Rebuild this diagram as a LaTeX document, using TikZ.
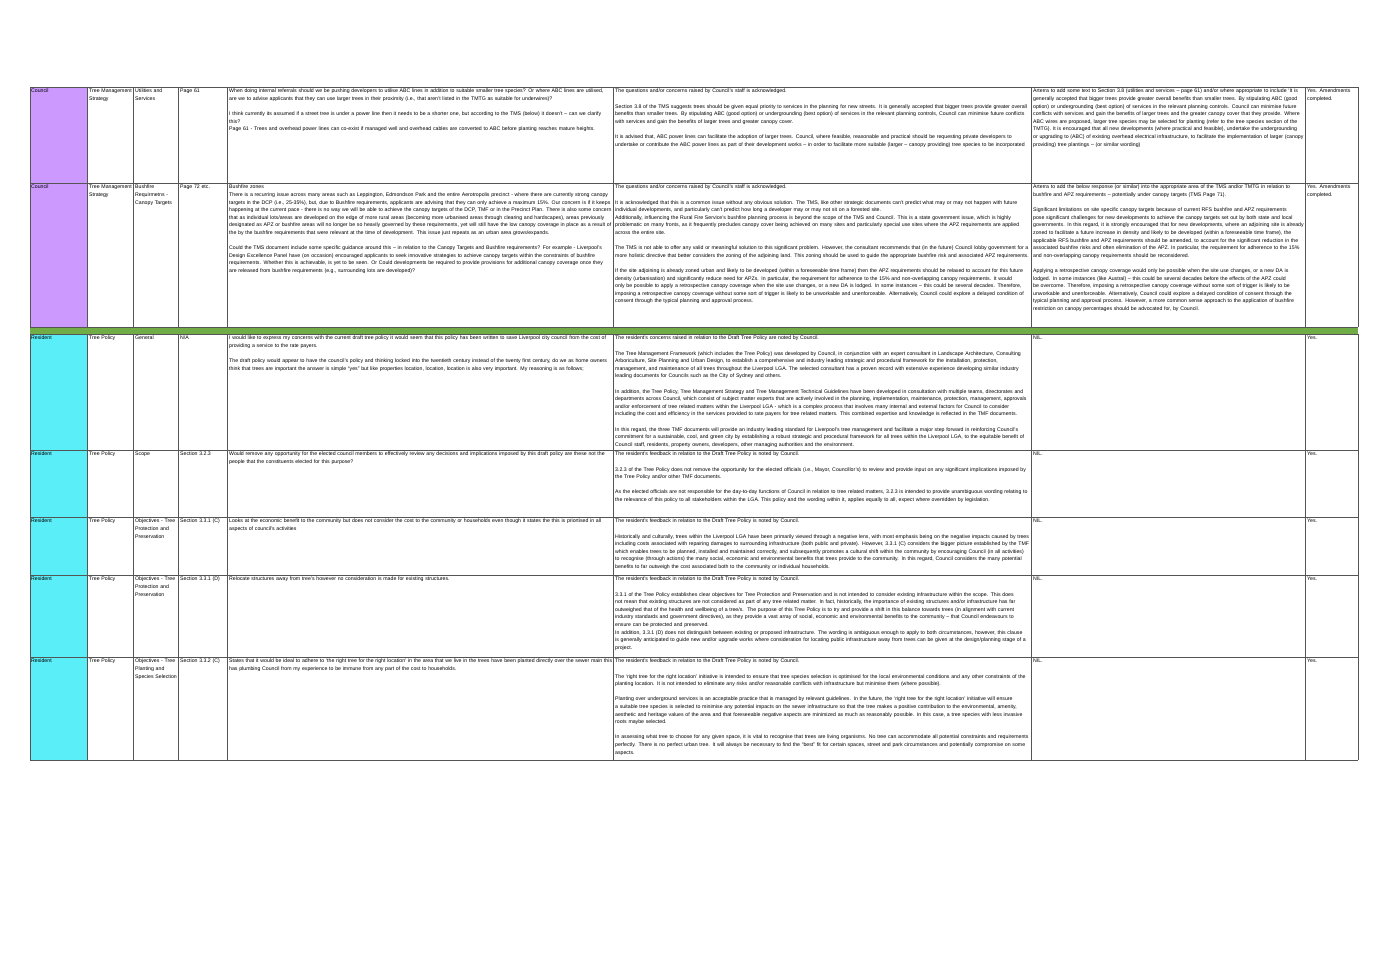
\documentclass[tikz,border=0pt]{standalone}
\usepackage{fontspec}
\setmainfont{Liberation Sans}
\usetikzlibrary{positioning}
\definecolor{councilpurple}{HTML}{CC99FF}
\definecolor{residentcyan}{HTML}{5AEEF8}
\definecolor{bandgreen}{HTML}{70AD47}
\definecolor{gridgrey}{HTML}{555555}
\newcommand\paragap{\par\vspace{7.6pt}}
\hyphenpenalty=10000
\exhyphenpenalty=10000

\begin{document}
\begin{tikzpicture}[x=1pt,y=-1pt,
  cell/.style={anchor=north west,inner sep=0pt,align=left,
    font=\fontsize{5.2}{7.6}\selectfont},
  rule/.style={draw=gridgrey,line width=0.6pt}]
\useasboundingbox (0,0) rectangle (1383,977);

% colour cells and band
\fill[councilpurple] (30,87) rectangle (87,327);
\fill[residentcyan] (30,334) rectangle (87,760);
\fill[bandgreen] (30,327) rectangle (1358,334);

% grid
\foreach \y in {87,183,327,334,450,517,575,657,760}
  \draw[rule] (30,\y) -- (1358,\y);
\foreach \x in {30,87,133,178,227,613,1031,1305,1358} {
  \draw[rule] (\x,87) -- (\x,327);
  \draw[rule] (\x,334) -- (\x,760);
}

% row 1
\node[cell,text width=55] (a1) at (31,89) {Council};
\node[cell,text width=45] (b1) at (89,89) {Tree Management Strategy};
\node[cell,text width=43] (c1) at (135,89) {Utilities and Services};
\node[cell,text width=47] (d1) at (180,89) {Page 61};
\node[cell,text width=383] (e1) at (229,89) {When doing internal referrals should we be pushing developers to utilise ABC lines in addition to suitable smaller tree species? Or where ABC lines are utilised, are we to advise applicants that they can use larger trees in their proximity (i.e., that aren't listed in the TMTG as suitable for underwires)?\paragap
I think currently its assumed if a street tree is under a power line then it needs to be a shorter one, but according to the TMS (below) it doesn't -- can we clarify this?\par
Page 61 - Trees and overhead power lines can co-exist if managed well and overhead cables are converted to ABC before planting reaches mature heights.};
\node[cell,text width=415] (f1) at (615,89) {The questions and/or concerns raised by Council's staff is acknowledged.\paragap
Section 3.8 of the TMS suggests trees should be given equal priority to services in the planning for new streets. It is generally accepted that bigger trees provide greater overall benefits than smaller trees. By stipulating ABC (good option) or undergrounding (best option) of services in the relevant planning controls, Council can minimise future conflicts with services and gain the benefits of larger trees and greater canopy cover.\paragap
It is advised that, ABC power lines can facilitate the adoption of larger trees. Council, where feasible, reasonable and practical should be requesting private developers to undertake or contribute the ABC power lines as part of their development works -- in order to facilitate more suitable (larger -- canopy providing) tree species to be incorporated};
\node[cell,text width=271] (g1) at (1033,89) {Arterra to add some text to Section 3.8 (utilities and services -- page 61) and/or where appropriate to include `It is generally accepted that bigger trees provide greater overall benefits than smaller trees. By stipulating ABC (good option) or undergrounding (best option) of services in the relevant planning controls. Council can minimise future conflicts with services and gain the benefits of larger trees and the greater canopy cover that they provide. Where ABC wires are proposed, larger tree species may be selected for planting (refer to the tree species section of the TMTG). It is encouraged that all new developments (where practical and feasible), undertake the undergrounding or upgrading to (ABC) of existing overhead electrical infrastructure, to facilitate the implementation of larger (canopy providing) tree plantings -- (or similar wording)};
\node[cell,text width=51] (h1) at (1307,89) {Yes. Amendments completed.};

% row 2
\node[cell,text width=55] (a2) at (31,185) {Council};
\node[cell,text width=45] (b2) at (89,185) {Tree Management Strategy};
\node[cell,text width=43] (c2) at (135,185) {Bushfire Requirmetns - Canopy Targets};
\node[cell,text width=47] (d2) at (180,185) {Page 72 etc.};
\node[cell,text width=383] (e2) at (229,185) {Bushfire zones\par
There is a recurring issue across many areas such as Leppington, Edmondson Park and the entire Aerotropolis precinct - where there are currently strong canopy targets in the DCP (i.e., 25-35\%), but, due to Bushfire requirements, applicants are advising that they can only achieve a maximum 15\%. Our concern is if it keeps happening at the current pace - there is no way we will be able to achieve the canopy targets of the DCP, TMF or in the Precinct Plan. There is also some concern that as individual lots/areas are developed on the edge of more rural areas (becoming more urbanised areas through clearing and hardscapes), areas previously designated as APZ or bushfire areas will no longer be so heavily governed by these requirements, yet will still have the low canopy coverage in place as a result of the by the bushfire requirements that were relevant at the time of development. This issue just repeats as an urban area grows/expands.\paragap
Could the TMS document include some specific guidance around this -- in relation to the Canopy Targets and Bushfire requirements? For example - Liverpool's Design Excellence Panel have (on occasion) encouraged applicants to seek innovative strategies to achieve canopy targets within the constraints of bushfire requirements. Whether this is achievable, is yet to be seen. Or Could developments be required to provide provisions for additional canopy coverage once they are released from bushfire requirements (e.g., surrounding lots are developed)?};
\node[cell,text width=415] (f2) at (615,185) {The questions and/or concerns raised by Council's staff is acknowledged.\paragap
It is acknowledged that this is a common issue without any obvious solution. The TMS, like other strategic documents can't predict what may or may not happen with future individual developments, and particularly can't predict how long a developer may or may not sit on a forested site.\par
Additionally, influencing the Rural Fire Service's bushfire planning process is beyond the scope of the TMS and Council. This is a state government issue, which is highly problematic on many fronts, as it frequently precludes canopy cover being achieved on many sites and particularly special use sites where the APZ requirements are applied across the entire site.\paragap
The TMS is not able to offer any valid or meaningful solution to this significant problem. However, the consultant recommends that (in the future) Council lobby government for a more holistic directive that better considers the zoning of the adjoining land. This zoning should be used to guide the appropriate bushfire risk and associated APZ requirements.\paragap
If the site adjoining is already zoned urban and likely to be developed (within a foreseeable time frame) then the APZ requirements should be relaxed to account for this future density (urbanisation) and significantly reduce need for APZs. In particular, the requirement for adherence to the 15\% and non-overlapping canopy requirements. It would only be possible to apply a retrospective canopy coverage when the site use changes, or a new DA is lodged. In some instances -- this could be several decades. Therefore, imposing a retrospective canopy coverage without some sort of trigger is likely to be unworkable and unenforceable. Alternatively, Council could explore a delayed condition of consent through the typical planning and approval process.};
\node[cell,text width=271] (g2) at (1033,185) {Arterra to add the below response (or similar) into the appropriate area of the TMS and/or TMTG in relation to bushfire and APZ requirements -- potentially under canopy targets (TMS Page 71).\paragap
Significant limitations on site specific canopy targets because of current RFS bushfire and APZ requirements pose significant challenges for new developments to achieve the canopy targets set out by both state and local governments. In this regard, it is strongly encouraged that for new developments, where an adjoining site is already zoned to facilitate a future increase in density and likely to be developed (within a foreseeable time frame), the applicable RFS bushfire and APZ requirements should be amended, to account for the significant reduction in the associated bushfire risks and often elimination of the APZ. In particular, the requirement for adherence to the 15\% and non-overlapping canopy requirements should be reconsidered.\paragap
Applying a retrospective canopy coverage would only be possible when the site use changes, or a new DA is lodged. In some instances (like Austral) -- this could be several decades before the effects of the APZ could be overcome. Therefore, imposing a retrospective canopy coverage without some sort of trigger is likely to be unworkable and unenforceable. Alternatively, Council could explore a delayed condition of consent through the typical planning and approval process. However, a more common sense approach to the application of bushfire restriction on canopy percentages should be advocated for, by Council.};
\node[cell,text width=51] (h2) at (1307,185) {Yes. Amendments completed.};

% row 3
\node[cell,text width=55] (a3) at (31,336) {Resident};
\node[cell,text width=45] (b3) at (89,336) {Tree Policy};
\node[cell,text width=43] (c3) at (135,336) {General};
\node[cell,text width=47] (d3) at (180,336) {N/A};
\node[cell,text width=383] (e3) at (229,336) {I would like to express my concerns with the current draft tree policy it would seem that this policy has been written to save Liverpool city council from the cost of providing a service to the rate payers.\paragap
The draft policy would appear to have the council's policy and thinking locked into the twentieth century instead of the twenty first century, do we as home owners think that trees are important the answer is simple ``yes'' but like properties location, location, location is also very important. My reasoning is as follows;};
\node[cell,text width=415] (f3) at (615,336) {The resident's concerns raised in relation to the Draft Tree Policy are noted by Council.\paragap
The Tree Management Framework (which includes the Tree Policy) was developed by Council, in conjunction with an expert consultant in Landscape Architecture, Consulting Arboriculture, Site Planning and Urban Design, to establish a comprehensive and industry leading strategic and procedural framework for the installation, protection, management, and maintenance of all trees throughout the Liverpool LGA. The selected consultant has a proven record with extensive experience developing similar industry leading documents for Councils such as the City of Sydney and others.\paragap
In addition, the Tree Policy, Tree Management Strategy and Tree Management Technical Guidelines have been developed in consultation with multiple teams, directorates and departments across Council, which consist of subject matter experts that are actively involved in the planning, implementation, maintenance, protection, management, approvals and/or enforcement of tree related matters within the Liverpool LGA - which is a complex process that involves many internal and external factors for Council to consider including the cost and efficiency in the services provided to rate payers for tree related matters. This combined expertise and knowledge is reflected in the TMF documents.\paragap
In this regard, the three TMF documents will provide an industry leading standard for Liverpool's tree management and facilitate a major step forward in reinforcing Council's commitment for a sustainable, cool, and green city by establishing a robust strategic and procedural framework for all trees within the Liverpool LGA, to the equitable benefit of Council staff, residents, property owners, developers, other managing authorities and the environment.};
\node[cell,text width=271] (g3) at (1033,336) {NIL.};
\node[cell,text width=51] (h3) at (1307,336) {Yes.};

% row 4
\node[cell,text width=55] (a4) at (31,452) {Resident};
\node[cell,text width=45] (b4) at (89,452) {Tree Policy};
\node[cell,text width=43] (c4) at (135,452) {Scope};
\node[cell,text width=47] (d4) at (180,452) {Section 3.2.3};
\node[cell,text width=383] (e4) at (229,452) {Would remove any opportunity for the elected council members to effectively review any decisions and implications imposed by this draft policy are these not the people that the constituents elected for this purpose?};
\node[cell,text width=415] (f4) at (615,452) {The resident's feedback in relation to the Draft Tree Policy is noted by Council.\paragap
3.2.3 of the Tree Policy does not remove the opportunity for the elected officials (i.e., Mayor, Councillor's) to review and provide input on any significant implications imposed by the Tree Policy and/or other TMF documents.\paragap
As the elected officials are not responsible for the day-to-day functions of Council in relation to tree related matters, 3.2.3 is intended to provide unambiguous wording relating to the relevance of this policy to all stakeholders within the LGA. This policy and the wording within it, applies equally to all, expect where overridden by legislation.};
\node[cell,text width=271] (g4) at (1033,452) {NIL.};
\node[cell,text width=51] (h4) at (1307,452) {Yes.};

% row 5
\node[cell,text width=55] (a5) at (31,519) {Resident};
\node[cell,text width=45] (b5) at (89,519) {Tree Policy};
\node[cell,text width=43] (c5) at (135,519) {Objectives - Tree Protection and Preservation};
\node[cell,text width=47] (d5) at (180,519) {Section 3.3.1 (C)};
\node[cell,text width=383] (e5) at (229,519) {Looks at the economic benefit to the community but does not consider the cost to the community or households even though it states the this is priortised in all aspects of council's activities};
\node[cell,text width=415] (f5) at (615,519) {The resident's feedback in relation to the Draft Tree Policy is noted by Council.\paragap
Historically and culturally, trees within the Liverpool LGA have been primarily viewed through a negative lens, with most emphasis being on the negative impacts caused by trees including costs associated with repairing damages to surrounding infrastructure (both public and private). However, 3.3.1 (C) considers the bigger picture established by the TMF which enables trees to be planned, installed and maintained correctly, and subsequently promotes a cultural shift within the community by encouraging Council (in all activities) to recognise (through actions) the many social, economic and environmental benefits that trees provide to the community. In this regard, Council considers the many potential benefits to far outweigh the cost associated both to the community or individual households.};
\node[cell,text width=271] (g5) at (1033,519) {NIL.};
\node[cell,text width=51] (h5) at (1307,519) {Yes.};

% row 6
\node[cell,text width=55] (a6) at (31,577) {Resident};
\node[cell,text width=45] (b6) at (89,577) {Tree Policy};
\node[cell,text width=43] (c6) at (135,577) {Objectives - Tree Protection and Preservation};
\node[cell,text width=47] (d6) at (180,577) {Section 3.3.1 (D)};
\node[cell,text width=383] (e6) at (229,577) {Relocate structures away from tree's however no consideration is made for existing structures.};
\node[cell,text width=415] (f6) at (615,577) {The resident's feedback in relation to the Draft Tree Policy is noted by Council.\paragap
3.3.1 of the Tree Policy establishes clear objectives for Tree Protection and Preservation and is not intended to consider existing infrastructure within the scope. This does not mean that existing structures are not considered as part of any tree related matter. In fact, historically, the importance of existing structures and/or infrastructure has far outweighed that of the health and wellbeing of a tree/s.\ \ The purpose of this Tree Policy is to try and provide a shift in this balance towards trees (in alignment with current industry standards and government directives), as they provide a vast array of social, economic and environmental benefits to the community -- that Council endeavours to ensure can be protected and preserved.\par
In addition, 3.3.1 (D) does not distinguish between existing or proposed infrastructure. The wording is ambiguous enough to apply to both circumstances, however, this clause is generally anticipated to guide new and/or upgrade works where consideration for locating public infrastructure away from trees can be given at the design/planning stage of a project.};
\node[cell,text width=271] (g6) at (1033,577) {NIL.};
\node[cell,text width=51] (h6) at (1307,577) {Yes.};

% row 7
\node[cell,text width=55] (a7) at (31,659) {Resident};
\node[cell,text width=45] (b7) at (89,659) {Tree Policy};
\node[cell,text width=43] (c7) at (135,659) {Objectives - Tree Planting and Species Selection};
\node[cell,text width=47] (d7) at (180,659) {Section 3.3.2 (C)};
\node[cell,text width=383] (e7) at (229,659) {States that it would be ideal to adhere to `the right tree for the right location' in the area that we live in the trees have been planted directly over the sewer main this has plumbing Council from my experience to be immune from any part of the cost to households.};
\node[cell,text width=415] (f7) at (615,659) {The resident's feedback in relation to the Draft Tree Policy is noted by Council.\paragap
The `right tree for the right location' initiative is intended to ensure that tree species selection is optimised for the local environmental conditions and any other constraints of the planting location. It is not intended to eliminate any risks and/or reasonable conflicts with infrastructure but minimise them (where possible).\paragap
Planting over underground services is an acceptable practice that is managed by relevant guidelines. In the future, the `right tree for the right location' initiative will ensure a suitable tree species is selected to minimise any potential impacts on the sewer infrastructure so that the tree makes a positive contribution to the environmental, amenity, aesthetic and heritage values of the area and that foreseeable negative aspects are minimized as much as reasonably possible. In this case, a tree species with less invasive roots maybe selected.\paragap
In assessing what tree to choose for any given space, it is vital to recognise that trees are living organisms. No tree can accommodate all potential constraints and requirements perfectly. There is no perfect urban tree. It will always be necessary to find the ``best'' fit for certain spaces, street and park circumstances and potentially compromise on some aspects.};
\node[cell,text width=271] (g7) at (1033,659) {NIL.};
\node[cell,text width=51] (h7) at (1307,659) {Yes.};
\end{tikzpicture}
\end{document}
